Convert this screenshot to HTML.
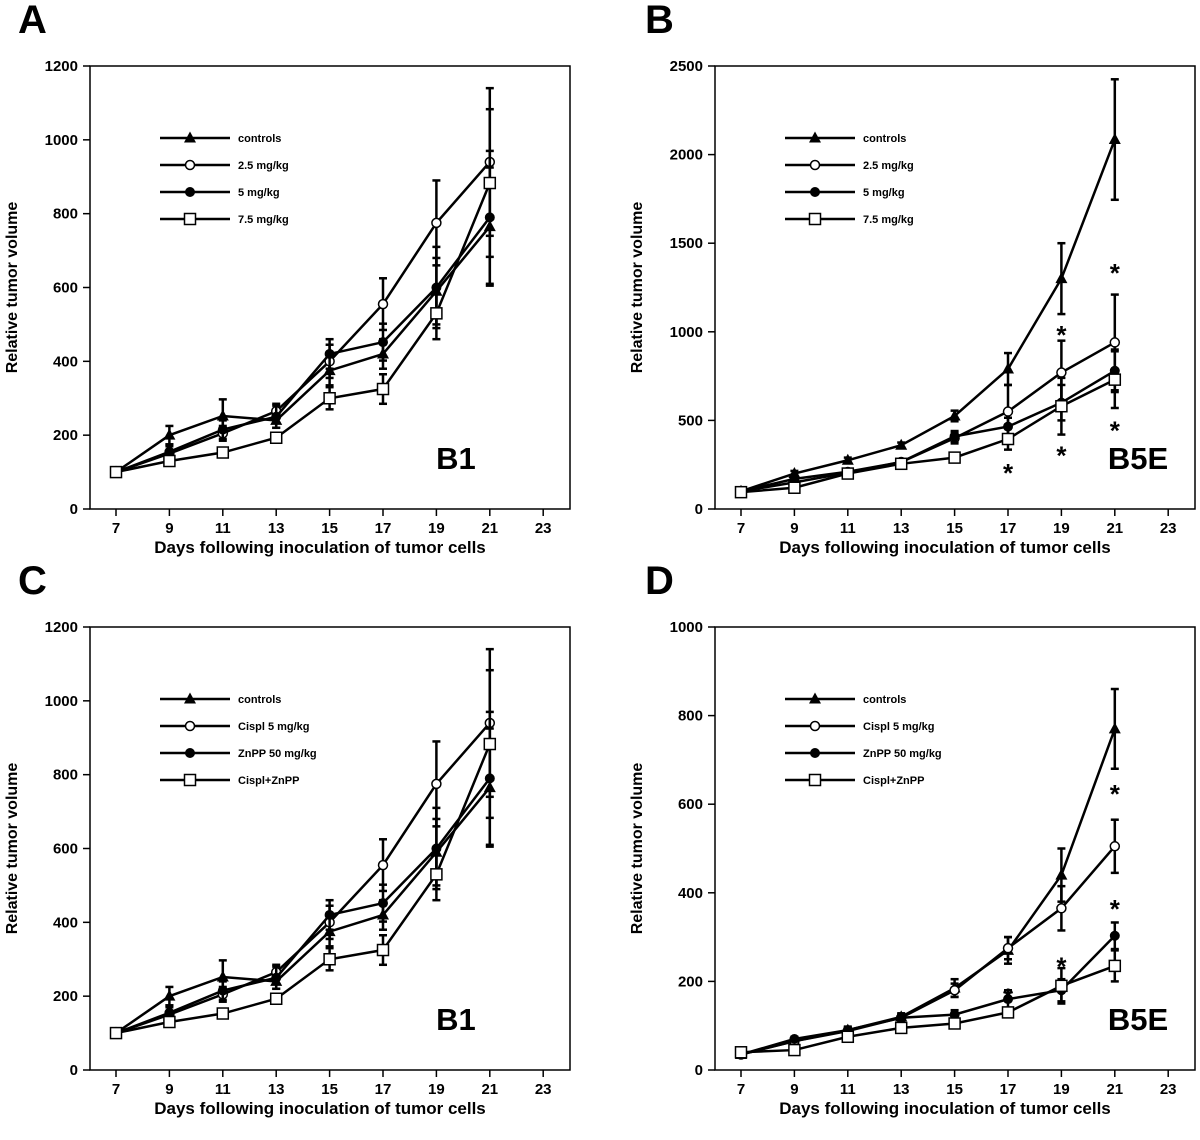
<!DOCTYPE html>
<html><head><meta charset="utf-8">
<style>
body{margin:0;background:#fff;}
svg{display:block;font-family:"Liberation Sans",Arial,sans-serif;font-weight:bold;}
</style></head>
<body>
<svg id="chart" width="1200" height="1140" viewBox="0 0 1200 1140" xmlns="http://www.w3.org/2000/svg"></svg>
<script>
const days = [7, 9, 11, 13, 15, 17, 19, 21];
const xTicks = [7, 9, 11, 13, 15, 17, 19, 21, 23];
// Panel A / C (B1)
const b1Controls = [100, 200, 252, 240, 375, 420, 590, 765];
const b1Controls_err = [0, 25, 45, 20, 40, 40, 90, 160];
const b1Low = [100, 150, 205, 265, 400, 555, 775, 940];
const b1Low_err = [0, 20, 20, 20, 45, 70, 115, 200];
const b1Mid = [100, 155, 215, 250, 420, 452, 600, 790];
const b1Mid_err = [0, 20, 25, 30, 40, 50, 110, 180];
const b1High = [100, 130, 153, 193, 300, 325, 530, 883];
const b1High_err = [0, 10, 10, 10, 30, 40, 70, 200];
// Panel B (B5E)
const b5Controls = [100, 200, 275, 360, 525, 790, 1300, 2085];
const b5Controls_err = [0, 15, 15, 15, 30, 90, 200, 340];
const b5Low = [100, 150, 205, 265, 400, 550, 770, 940];
const b5Low_err = [0, 15, 15, 15, 30, 150, 180, 270];
const b5Mid = [100, 170, 210, 265, 410, 465, 600, 780];
const b5Mid_err = [0, 15, 15, 15, 30, 50, 100, 120];
const b5High = [95, 120, 200, 255, 290, 395, 580, 730];
const b5High_err = [0, 15, 15, 15, 20, 60, 160, 160];
// Panel D (B5E combo)
const dControls = [35, 65, 90, 120, 185, 270, 440, 770];
const dControls_err = [0, 5, 8, 8, 20, 30, 60, 90];
const dCispl = [35, 65, 88, 118, 180, 275, 365, 505];
const dCispl_err = [0, 5, 8, 8, 15, 25, 50, 60];
const dZnPP = [35, 70, 90, 118, 125, 160, 180, 303];
const dZnPP_err = [0, 5, 5, 5, 10, 20, 25, 30];
const dCombo = [40, 45, 75, 95, 105, 130, 190, 235];
const dCombo_err = [0, 5, 5, 5, 8, 10, 40, 35];

const svg = document.getElementById('chart');
const NS = 'http://www.w3.org/2000/svg';
function mk(tag, attrs, parent){
  const e = document.createElementNS(NS, tag);
  for (const k in attrs) e.setAttribute(k, attrs[k]);
  (parent||svg).appendChild(e); return e;
}
function txt(x,y,s,size,anchor,parent){
  const t = mk('text',{x:x,y:y,'font-size':size,'text-anchor':anchor||'start',fill:'#000'},parent);
  t.textContent = s; return t;
}
function marker(g,type,x,y){
  let m;
  if(type==='tri') m = mk('polygon',{points:`${x},${y-6.5} ${x-6},${y+4.5} ${x+6},${y+4.5}`,fill:'#000'},g);
  else if(type==='oc') m = mk('circle',{cx:x,cy:y,r:4.5,fill:'#fff',stroke:'#000','stroke-width':1.5},g);
  else if(type==='fc') m = mk('circle',{cx:x,cy:y,r:5,fill:'#000'},g);
  else m = mk('rect',{x:x-5.5,y:y-5.5,width:11,height:11,fill:'#fff',stroke:'#000','stroke-width':1.5},g);
  return m;
}

function panel(cfg){
  const g = mk('g',{});
  
  
  const L=cfg.left, R=cfg.left+480, T=cfg.top, B=cfg.top+443;
  const xs = d => L+26 + (d-7)*26.7;
  const ys = v => B - v/cfg.ymax*(B-T);
  const frame = mk('rect',{x:L,y:T,width:R-L,height:B-T,fill:'none',stroke:'#000','stroke-width':1.5},g);
  
  
  xTicks.forEach(d=>{
    mk('line',{x1:xs(d),x2:xs(d),y1:B,y2:B+7,stroke:'#000','stroke-width':1.5},g);
    const t = txt(xs(d),B+24,String(d),15,'middle',g);
    
    
  });
  cfg.yticks.forEach(v=>{
    mk('line',{x1:L-7,x2:L,y1:ys(v),y2:ys(v),stroke:'#000','stroke-width':1.5},g);
    const t = txt(L-12,ys(v)+5,String(v),15,'end',g);
    
    
  });
  const xt = txt((L+R)/2-10,B+44,'Days following inoculation of tumor cells',17,'middle',g);
  
  
  const yt = txt(0,0,'Relative tumor volume',16,'middle',g);
  yt.setAttribute('transform',`translate(${L-73},${(T+B)/2}) rotate(-90)`);
  
  
  const pl = txt(cfg.letterX,T-33,cfg.letter,40,'start',g);
  
  
  const cl = txt(cfg.cellX,B-40,cfg.cell,31,'middle',g);
  
  
  cfg.series.forEach(s=>{
    const sg = mk('g',{},g);
    
    
    s.vals.forEach((v,i)=>{
      const e = s.err[i]; if(!e) return;
      const x = xs(days[i]);
      mk('line',{x1:x,x2:x,y1:ys(v-e),y2:ys(v+e),stroke:'#000','stroke-width':2.5},sg);
      mk('line',{x1:x-4,x2:x+4,y1:ys(v-e),y2:ys(v-e),stroke:'#000','stroke-width':2.5},sg);
      mk('line',{x1:x-4,x2:x+4,y1:ys(v+e),y2:ys(v+e),stroke:'#000','stroke-width':2.5},sg);
    });
    const pts = s.vals.map((v,i)=>`${xs(days[i])},${ys(v)}`).join(' ');
    mk('polyline',{points:pts,fill:'none',stroke:'#000','stroke-width':2.5},sg);
    s.vals.forEach((v,i)=>{
      const m = marker(sg,s.type,xs(days[i]),ys(v));
      
      
    });
  });
  const lg = mk('g',{},g);
  
  
  cfg.series.forEach((s,i)=>{
    const y = T+72+i*27;
    const eg = mk('g',{},lg);
    
    
    mk('line',{x1:L+70,x2:L+140,y1:y,y2:y,stroke:'#000','stroke-width':2.5},eg);
    marker(eg,s.type,L+100,y);
    txt(L+148,y+4,s.label,11,'start',eg);
  });
  (cfg.stars||[]).forEach(st=>{
    const t = txt(xs(st[0]),ys(st[1])+12,'*',26,'middle',g);
    
    
  });
}

const lab1 = ['controls','2.5 mg/kg','5 mg/kg','7.5 mg/kg'];
const lab2 = ['controls','Cispl 5 mg/kg','ZnPP 50 mg/kg','Cispl+ZnPP'];
function b1Series(lab){return [
  {key:'controls',type:'tri',vals:b1Controls,err:b1Controls_err,label:lab[0]},
  {key:'s2',type:'oc',vals:b1Low,err:b1Low_err,label:lab[1]},
  {key:'s3',type:'fc',vals:b1Mid,err:b1Mid_err,label:lab[2]},
  {key:'s4',type:'sq',vals:b1High,err:b1High_err,label:lab[3]}];}

panel({name:'panel-a',letter:'A',letterX:18,left:90,top:66,ymax:1200,yticks:[0,200,400,600,800,1000,1200],
  cell:'B1',cellX:456,series:b1Series(lab1)});
panel({name:'panel-b',letter:'B',letterX:645,left:715,top:66,ymax:2500,yticks:[0,500,1000,1500,2000,2500],
  cell:'B5E',cellX:1138,series:[
  {key:'controls',type:'tri',vals:b5Controls,err:b5Controls_err,label:lab1[0]},
  {key:'s2',type:'oc',vals:b5Low,err:b5Low_err,label:lab1[1]},
  {key:'s3',type:'fc',vals:b5Mid,err:b5Mid_err,label:lab1[2]},
  {key:'s4',type:'sq',vals:b5High,err:b5High_err,label:lab1[3]}],
  stars:[[17,220],[19,1000],[19,320],[21,1350],[21,460]]});
panel({name:'panel-c',letter:'C',letterX:18,left:90,top:627,ymax:1200,yticks:[0,200,400,600,800,1000,1200],
  cell:'B1',cellX:456,series:b1Series(lab2)});
panel({name:'panel-d',letter:'D',letterX:645,left:715,top:627,ymax:1000,yticks:[0,200,400,600,800,1000],
  cell:'B5E',cellX:1138,series:[
  {key:'controls',type:'tri',vals:dControls,err:dControls_err,label:lab2[0]},
  {key:'s2',type:'oc',vals:dCispl,err:dCispl_err,label:lab2[1]},
  {key:'s3',type:'fc',vals:dZnPP,err:dZnPP_err,label:lab2[2]},
  {key:'s4',type:'sq',vals:dCombo,err:dCombo_err,label:lab2[3]}],
  stars:[[17,170],[19,240],[21,630],[21,370]]});
</script>
</body></html>
